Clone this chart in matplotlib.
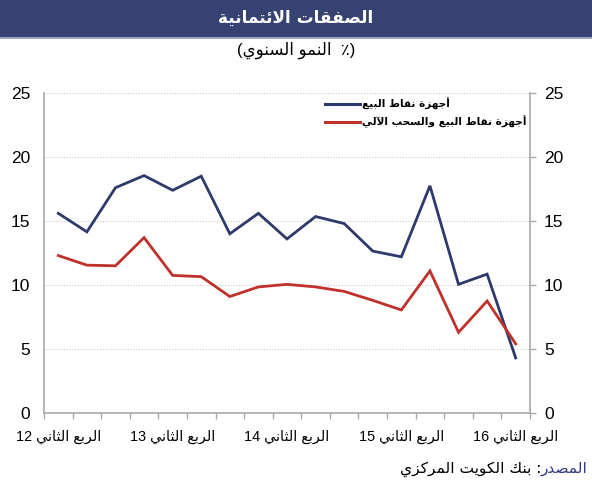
import re
import matplotlib
matplotlib.use("Agg")
import matplotlib.pyplot as plt
from matplotlib.patches import Rectangle
from matplotlib.lines import Line2D
from matplotlib import font_manager

# ---------------- data ----------------
quarters = ["Q2-12", "Q3-12", "Q4-12", "Q1-13", "Q2-13", "Q3-13", "Q4-13", "Q1-14",
            "Q2-14", "Q3-14", "Q4-14", "Q1-15", "Q2-15", "Q3-15", "Q4-15", "Q1-16", "Q2-16"]
pos_values = [15.6, 14.15, 17.6, 18.55, 17.4, 18.5, 14.0, 15.6, 13.6,
              15.35, 14.8, 12.65, 12.2, 17.75, 10.05, 10.85, 4.3]
pos_atm_values = [12.3, 11.55, 11.5, 13.7, 10.75, 10.65, 9.1, 9.85, 10.05,
                  9.85, 9.5, 8.8, 8.05, 11.1, 6.3, 8.75, 5.4]
tick_positions = [0, 4, 8, 12, 16]
tick_labels = ["الربع الثاني 12", "الربع الثاني 13", "الربع الثاني 14",
               "الربع الثاني 15", "الربع الثاني 16"]
y_ticks = [0, 5, 10, 15, 20, 25]
series_names = ["أجهزة نقاط البيع", "أجهزة نقاط البيع والسحب الآلي"]
title_text = "الصفقات الائتمانية"
subtitle_text = "(٪  النمو السنوي)"
source_label = "المصدر"
source_text = ": بنك الكويت المركزي"

# ---------------- Arabic shaping helpers ----------------
FORMS = {
    '\u0621': ('\uFE80',),
    '\u0622': ('\uFE81', '\uFE82'), '\u0623': ('\uFE83', '\uFE84'),
    '\u0624': ('\uFE85', '\uFE86'), '\u0625': ('\uFE87', '\uFE88'),
    '\u0626': ('\uFE89', '\uFE8A', '\uFE8B', '\uFE8C'),
    '\u0627': ('\uFE8D', '\uFE8E'),
    '\u0628': ('\uFE8F', '\uFE90', '\uFE91', '\uFE92'),
    '\u0629': ('\uFE93', '\uFE94'),
    '\u062A': ('\uFE95', '\uFE96', '\uFE97', '\uFE98'),
    '\u062B': ('\uFE99', '\uFE9A', '\uFE9B', '\uFE9C'),
    '\u062C': ('\uFE9D', '\uFE9E', '\uFE9F', '\uFEA0'),
    '\u062D': ('\uFEA1', '\uFEA2', '\uFEA3', '\uFEA4'),
    '\u062E': ('\uFEA5', '\uFEA6', '\uFEA7', '\uFEA8'),
    '\u062F': ('\uFEA9', '\uFEAA'), '\u0630': ('\uFEAB', '\uFEAC'),
    '\u0631': ('\uFEAD', '\uFEAE'), '\u0632': ('\uFEAF', '\uFEB0'),
    '\u0633': ('\uFEB1', '\uFEB2', '\uFEB3', '\uFEB4'),
    '\u0634': ('\uFEB5', '\uFEB6', '\uFEB7', '\uFEB8'),
    '\u0635': ('\uFEB9', '\uFEBA', '\uFEBB', '\uFEBC'),
    '\u0636': ('\uFEBD', '\uFEBE', '\uFEBF', '\uFEC0'),
    '\u0637': ('\uFEC1', '\uFEC2', '\uFEC3', '\uFEC4'),
    '\u0638': ('\uFEC5', '\uFEC6', '\uFEC7', '\uFEC8'),
    '\u0639': ('\uFEC9', '\uFECA', '\uFECB', '\uFECC'),
    '\u063A': ('\uFECD', '\uFECE', '\uFECF', '\uFED0'),
    '\u0641': ('\uFED1', '\uFED2', '\uFED3', '\uFED4'),
    '\u0642': ('\uFED5', '\uFED6', '\uFED7', '\uFED8'),
    '\u0643': ('\uFED9', '\uFEDA', '\uFEDB', '\uFEDC'),
    '\u0644': ('\uFEDD', '\uFEDE', '\uFEDF', '\uFEE0'),
    '\u0645': ('\uFEE1', '\uFEE2', '\uFEE3', '\uFEE4'),
    '\u0646': ('\uFEE5', '\uFEE6', '\uFEE7', '\uFEE8'),
    '\u0647': ('\uFEE9', '\uFEEA', '\uFEEB', '\uFEEC'),
    '\u0648': ('\uFEED', '\uFEEE'), '\u0649': ('\uFEEF', '\uFEF0'),
    '\u064A': ('\uFEF1', '\uFEF2', '\uFEF3', '\uFEF4'),
}
LAM_ALEF = {'\u0622': ('\uFEF5', '\uFEF6'), '\u0623': ('\uFEF7', '\uFEF8'),
            '\u0625': ('\uFEF9', '\uFEFA'), '\u0627': ('\uFEFB', '\uFEFC')}


def shape(s):
    toks = []
    i = 0
    while i < len(s):
        c = s[i]
        if c == '\u0644' and i + 1 < len(s) and s[i + 1] in LAM_ALEF:
            toks.append(LAM_ALEF[s[i + 1]]); i += 2
        elif c in FORMS:
            toks.append(FORMS[c]); i += 1
        else:
            toks.append(c); i += 1
    out = []
    for j, t in enumerate(toks):
        if isinstance(t, str):
            out.append(t); continue
        prev = toks[j - 1] if j > 0 else None
        nxt = toks[j + 1] if j + 1 < len(toks) else None
        jp = isinstance(prev, tuple) and len(prev) == 4
        jn = len(t) == 4 and isinstance(nxt, tuple)
        if len(t) == 1:
            out.append(t[0])
        elif jp and jn:
            out.append(t[3])
        elif jp:
            out.append(t[1])
        elif jn:
            out.append(t[2])
        else:
            out.append(t[0])
    return ''.join(out)


def ar(s):
    r = shape(s)[::-1]
    r = r.translate(str.maketrans({'(': ')', ')': '('}))
    r = re.sub(r'[0-9A-Za-z]+', lambda m: m.group(0)[::-1], r)
    return r


# ---------------- fonts ----------------
installed = {f.name for f in font_manager.fontManager.ttflist}
AR = 'DejaVu Sans Condensed' if 'DejaVu Sans Condensed' in installed else 'DejaVu Sans'
FONT = ['Liberation Sans', AR, 'DejaVu Sans']
ARFONT = [AR, 'DejaVu Sans']
plt.rcParams['font.family'] = FONT
condensed = AR != 'DejaVu Sans'
k = 1.0 if condensed else 0.9

W, H = 592, 500
fig = plt.figure(figsize=(W / 100, H / 100), dpi=100)
fig.patch.set_facecolor('white')

NAVY = '#364372'
BLUE = '#2f3a6c'
RED = '#c0312c'
GRID = '#c8c8c8'
AXC = '#a9a9a9'

# title bar
fig.patches.append(Rectangle((0, 1 - 37 / H), 1, 37 / H, transform=fig.transFigure,
                             facecolor=NAVY, edgecolor='none', zorder=0))
fig.lines.append(Line2D([0, 1], [1 - 38 / H, 1 - 38 / H], transform=fig.transFigure,
                        color='#8c95b5', lw=1.2))
fig.text(0.5, 1 - 18 / H, ar(title_text), color='white', fontsize=13.5 * k,
         fontweight='bold', ha='center', va='center', family=ARFONT)
fig.text(0.5, 1 - 50 / H, ar(subtitle_text), color='black', fontsize=12,
         ha='center', va='center', family=FONT)

ax = fig.add_axes([44 / W, 1 - 413 / H, 486 / W, 320 / H])
x = list(range(len(quarters)))
ax.plot(x, pos_values, color=BLUE, lw=2.0, solid_joinstyle='miter', zorder=3)
ax.plot(x, pos_atm_values, color=RED, lw=2.0, solid_joinstyle='miter', zorder=3)

ax.set_xlim(-0.5, len(quarters) - 0.5)
ax.set_ylim(0, 25)

for v in y_ticks[1:]:
    ax.axhline(v, color=GRID, lw=0.8, ls=(0, (1, 1.5)), zorder=1)

ax.spines['top'].set_visible(False)
for side in ['left', 'right', 'bottom']:
    ax.spines[side].set_color(AXC)
    ax.spines[side].set_linewidth(1.2)

# x axis: boundary ticks (major) & labels (minor)
ax.set_xticks([i - 0.5 for i in range(len(quarters) + 1)])
ax.set_xticklabels([])
ax.tick_params(axis='x', which='major', direction='out', length=4, width=1, color=AXC)
ax.set_xticks(tick_positions, minor=True)
ax.set_xticklabels([ar(t) for t in tick_labels], minor=True, fontsize=11.5 * k)
ax.tick_params(axis='x', which='minor', length=0, pad=12)

# y axis both sides
ax.set_yticks(y_ticks)
ax.set_yticklabels([str(v) for v in y_ticks], fontsize=12.5)
ax.tick_params(axis='y', which='major', left=False, right=True, labelleft=True,
               labelright=True, length=4, width=1, color=AXC, pad=6)

# legend (manual)
lx0, lx1, ltx = 325, 360, 362
for i, (name, col) in enumerate(zip(series_names, [BLUE, RED])):
    yy = 1 - (104 + 18 * i) / H
    fig.lines.append(Line2D([lx0 / W, lx1 / W], [yy, yy], transform=fig.transFigure,
                            color=col, lw=2.2))
    fig.text(ltx / W, yy, ar(name), fontsize=8.4 * k, fontweight='bold', ha='left',
             va='center', family=ARFONT)

# source
t1 = fig.text(588 / W, 1 - 469 / H, ar(source_label), color='#2f3a80', fontsize=12.3 * k,
              ha='right', va='center', family=ARFONT)
ax.annotate(ar(source_text), xy=(0, 0.5), xycoords=t1, ha='right', va='center',
            fontsize=12.3 * k, color='black', family=ARFONT, annotation_clip=False)

fig.savefig('out.png', dpi=100, facecolor='white')
